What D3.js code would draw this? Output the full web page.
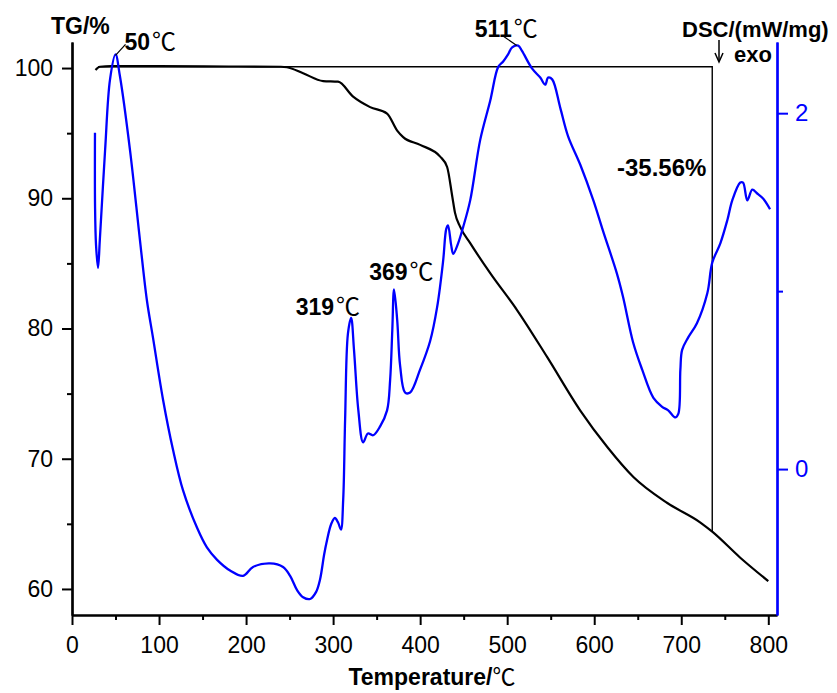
<!DOCTYPE html>
<html>
<head>
<meta charset="utf-8">
<script src="https://cdn.jsdelivr.net/npm/d3@7/dist/d3.min.js"></script>
<style>
body { margin: 0; background: #fff; }
text { font-family: "Liberation Sans", Arial, sans-serif; }
.deg { font-family: "Noto Sans CJK SC", "DejaVu Serif", serif; font-weight: normal; }
</style>
</head>
<body>
<svg id="chart" width="837" height="693"></svg>
<script>
// TG curve (mass %, left axis)
const tgTemp = [27, 32, 45, 100, 180, 240, 247, 265.5, 288.5, 305.7, 323, 342.5, 362, 373.6, 380.5, 400, 423, 431, 437, 440, 446, 457.5, 480.5, 511.5, 546, 584, 615, 645, 684, 722, 735.6, 767.8, 800];
const tgMass = [99.85, 100.1, 100.15, 100.15, 100.12, 100.1, 100.06, 99.6, 99.0, 98.95, 97.8, 97.0, 96.5, 95.2, 94.7, 94.1, 93.2, 92.4, 90.1, 88.9, 87.8, 86.55, 84.25, 81.4, 77.8, 73.7, 70.9, 68.6, 66.6, 65.1, 64.4, 62.4, 60.6];

// DSC curve (mW/mg, right axis)
const dscTemp = [26.4, 26.5, 27.6, 29.9, 32, 38, 43.7, 50, 55, 66.7, 78, 86, 93, 104.6, 116, 127.6, 143.7, 155, 166.7, 181.6, 196.6, 208, 227.6, 242.5, 250.6, 258.6, 265.5, 273.6, 280.5, 285, 289.7, 293, 297.7, 302, 305.7, 309, 311.6, 313.8, 317, 320.7, 324, 329, 334.5, 340, 346, 354, 362, 365.5, 368, 370, 373.6, 377, 382.8, 388.5, 400, 411.5, 419.5, 426.4, 430, 432, 435.6, 438, 443.7, 449.4, 457.5, 469, 480.5, 489.7, 495.4, 501, 505.7, 512.6, 517, 528.7, 538, 543.7, 547, 551.7, 561, 570, 584, 599, 610, 626, 633, 644.8, 655, 668, 678, 685, 693, 696.6, 699, 701, 708, 718, 730, 735.6, 745, 753, 758.6, 767.8, 771, 775.9, 781.6, 787, 794, 802];
const dscValue = [1.89, 1.47, 1.26, 1.13, 1.29, 1.79, 2.19, 2.33, 2.21, 1.79, 1.29, 0.95, 0.74, 0.39, 0.11, -0.12, -0.33, -0.44, -0.51, -0.57, -0.60, -0.55, -0.53, -0.55, -0.60, -0.68, -0.72, -0.73, -0.69, -0.62, -0.48, -0.40, -0.31, -0.275, -0.30, -0.34, -0.17, 0.28, 0.76, 0.85, 0.67, 0.33, 0.15, 0.20, 0.19, 0.24, 0.33, 0.50, 0.78, 1.01, 0.84, 0.58, 0.43, 0.43, 0.56, 0.72, 0.91, 1.17, 1.35, 1.37, 1.26, 1.21, 1.27, 1.36, 1.51, 1.85, 2.07, 2.26, 2.29, 2.33, 2.37, 2.38, 2.35, 2.25, 2.20, 2.16, 2.20, 2.19, 2.03, 1.87, 1.71, 1.51, 1.34, 1.10, 0.97, 0.71, 0.56, 0.40, 0.35, 0.33, 0.29, 0.31, 0.56, 0.67, 0.74, 0.82, 0.99, 1.16, 1.27, 1.40, 1.51, 1.61, 1.61, 1.51, 1.57, 1.55, 1.52, 1.46];

const xTicks = [0, 100, 200, 300, 400, 500, 600, 700, 800];
const xMinor = [50, 150, 250, 350, 450, 550, 650, 750];
const tgTicks = [60, 70, 80, 90, 100];
const tgMinor = [65, 75, 85, 95];
const dscTicks = [0, 2];
const dscMinor = [1];

// peak labels: temperature, DSC value at the peak
const peakTemps = [50, 319, 369, 511];
const peakValues = [2.33, 0.85, 1.01, 2.38];

// mass loss marker
const lossEndTemp = 735.6;
const lossStartMass = 100.1;
const lossEndMass = 64.44;
const lossLabel = "-35.56%";

const svg = d3.select("#chart");

const x = d3.scaleLinear().domain([0, 810]).range([72, 777]);
const yTG = d3.scaleLinear().domain([58, 102]).range([615, 42]);
const yDSC = d3.scaleLinear().domain([-0.82, 2.40]).range([615, 42]);

// reference lines for the mass loss
svg.append("path")
    .attr("d", d3.line()([
        [x(30), yTG(lossStartMass)],
        [x(lossEndTemp), yTG(lossStartMass)],
        [x(lossEndTemp), yTG(lossEndMass)]
    ]))
    .attr("fill", "none")
    .attr("stroke", "#000")
    .attr("stroke-width", 1.4);

// curves
const tgLine = d3.line().x(d => x(d[0])).y(d => yTG(d[1])).curve(d3.curveMonotoneX);
const dscLine = d3.line().x(d => x(d[0])).y(d => yDSC(d[1])).curve(d3.curveCatmullRom.alpha(0.5));

svg.append("path")
    .datum(d3.zip(tgTemp, tgMass))
    .attr("d", tgLine)
    .attr("fill", "none")
    .attr("stroke", "#000")
    .attr("stroke-width", 2.2);

svg.append("path")
    .datum(d3.zip(dscTemp, dscValue))
    .attr("d", dscLine)
    .attr("fill", "none")
    .attr("stroke", "#0000ff")
    .attr("stroke-width", 2.3);

// axes
function styleAxis(g, color, size) {
    g.select(".domain").attr("stroke", color).attr("stroke-width", 2.2);
    g.selectAll(".tick line").attr("stroke", color).attr("stroke-width", 2);
    g.selectAll(".tick text")
        .attr("fill", color)
        .style("font-size", size + "px")
        .style("font-family", "'Liberation Sans', Arial, sans-serif");
}

svg.append("g")
    .attr("transform", "translate(0,615)")
    .call(d3.axisBottom(x).tickValues(xMinor).tickSize(5).tickSizeOuter(0).tickFormat(""))
    .call(g => styleAxis(g, "#000", 23));

svg.append("g")
    .attr("transform", "translate(0,615)")
    .call(d3.axisBottom(x).tickValues(xTicks).tickSize(10).tickPadding(12).tickSizeOuter(0))
    .call(g => styleAxis(g, "#000", 23));

svg.append("g")
    .attr("transform", "translate(72,0)")
    .call(d3.axisLeft(yTG).tickValues(tgMinor).tickSize(5).tickSizeOuter(0).tickFormat(""))
    .call(g => styleAxis(g, "#000", 23));

svg.append("g")
    .attr("transform", "translate(72,0)")
    .call(d3.axisLeft(yTG).tickValues(tgTicks).tickSize(10).tickPadding(9).tickSizeOuter(0))
    .call(g => styleAxis(g, "#000", 23));

svg.append("g")
    .attr("transform", "translate(777,0)")
    .call(d3.axisRight(yDSC).tickValues(dscMinor).tickSize(6).tickSizeOuter(0).tickFormat(""))
    .call(g => styleAxis(g, "#0000ff", 24));

svg.append("g")
    .attr("transform", "translate(777,0)")
    .call(d3.axisRight(yDSC).tickValues(dscTicks).tickSize(11).tickPadding(7).tickSizeOuter(0).tickFormat(d3.format("d")))
    .call(g => styleAxis(g, "#0000ff", 24));

// axis titles
svg.append("text")
    .attr("x", 51).attr("y", 34)
    .style("font-size", "23px").style("font-weight", "bold")
    .text("TG/%");

const xTitle = svg.append("text")
    .attr("x", 432).attr("y", 685)
    .attr("text-anchor", "middle")
    .style("font-size", "23px").style("font-weight", "bold");
xTitle.append("tspan").text("Temperature/");
xTitle.append("tspan").attr("class", "deg").style("font-size", "23px").text("℃");

svg.append("text")
    .attr("x", 682).attr("y", 37)
    .style("font-size", "22px").style("font-weight", "bold")
    .text("DSC/(mW/mg)");

svg.append("text")
    .attr("x", 734).attr("y", 62)
    .style("font-size", "22px").style("font-weight", "bold")
    .text("exo");

// exo arrow
svg.append("line")
    .attr("x1", 719).attr("y1", 40).attr("x2", 719).attr("y2", 61)
    .attr("stroke", "#000").attr("stroke-width", 1.5);
svg.append("path")
    .attr("d", "M715,53 L719,62 L723,53")
    .attr("fill", "none").attr("stroke", "#000").attr("stroke-width", 1.5);

// peak labels
const labelOffsets = [[9, -4], [-54, -3], [-24, -9], [-42, -9]];
peakTemps.forEach((t, i) => {
    const px = x(t), py = yDSC(peakValues[i]);
    const lx = px + labelOffsets[i][0], ly = py + labelOffsets[i][1];
    const txt = svg.append("text")
        .attr("x", lx).attr("y", ly)
        .style("font-size", "23px").style("font-weight", "bold");
    txt.append("tspan").text(String(t));
    txt.append("tspan").attr("class", "deg").attr("dx", 2).style("font-size", "24px").text("℃");
});

// leader lines for 50 and 511
svg.append("line")
    .attr("x1", x(50)).attr("y1", yDSC(2.33) + 1)
    .attr("x2", x(50) + 10).attr("y2", yDSC(2.33) - 10)
    .attr("stroke", "#000").attr("stroke-width", 1.2);
svg.append("line")
    .attr("x1", x(511)).attr("y1", yDSC(2.38))
    .attr("x2", x(511) - 13).attr("y2", yDSC(2.38) - 9)
    .attr("stroke", "#000").attr("stroke-width", 1.2);

svg.append("text")
    .attr("x", 617).attr("y", 176)
    .style("font-size", "24px").style("font-weight", "bold")
    .text(lossLabel);
</script>
</body>
</html>
